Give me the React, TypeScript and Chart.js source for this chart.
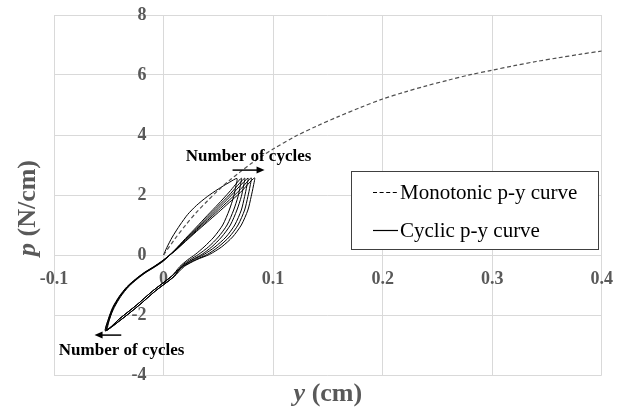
import React, { useEffect, useRef } from 'react';
import { Chart, registerables } from 'chart.js';

Chart.register(...registerables);

// ---- tick values ----
const X_TICKS = [-0.1, 0, 0.1, 0.2, 0.3, 0.4];
const Y_TICKS = [-4, -2, 0, 2, 4, 6, 8];

// ---- monotonic p-y curve (dashed) ----
const MONO_X = [0, 0.01, 0.02, 0.03, 0.04, 0.05, 0.06, 0.07, 0.08, 0.09, 0.1, 0.12, 0.14, 0.16, 0.18, 0.2, 0.22, 0.24, 0.26, 0.28, 0.3, 0.32, 0.34, 0.36, 0.38, 0.4];
const MONO_P = [0, 0.52, 0.99, 1.42, 1.8, 2.16, 2.48, 2.77, 3.05, 3.3, 3.53, 3.95, 4.3, 4.62, 4.92, 5.2, 5.43, 5.64, 5.83, 6.01, 6.16, 6.31, 6.45, 6.57, 6.69, 6.8];

// ---- cyclic p-y curve (solid), one array pair per cycle ----
const C1_X = [0, 0.003, 0.008, 0.015, 0.022, 0.03, 0.04, 0.05, 0.06, 0.067, 0.066, 0.064, 0.06, 0.054, 0.046, 0.037, 0.029, 0.022, 0.015, 0.007, -0.01, -0.025, -0.04, -0.051];
const C1_P = [0, 0.25, 0.6, 1.0, 1.35, 1.65, 1.95, 2.2, 2.42, 2.55, 2.3, 1.95, 1.5, 1.0, 0.6, 0.27, 0.02, -0.16, -0.38, -0.72, -1.2, -1.68, -2.12, -2.48];

const C2_X = [-0.049, -0.045, -0.039, -0.032, -0.024, -0.016, -0.008, 0.0, 0.01, 0.02, 0.03, 0.04, 0.05, 0.06, 0.071, 0.07, 0.068, 0.064, 0.058, 0.05, 0.041, 0.032, 0.024, 0.016, 0.0095, -0.0075, -0.0225, -0.0375, -0.052];
const C2_P = [-2.1, -1.75, -1.38, -1.06, -0.8, -0.58, -0.4, -0.2, 0.16, 0.55, 0.93, 1.32, 1.7, 2.1, 2.56, 2.3, 1.95, 1.5, 1.0, 0.6, 0.27, 0.02, -0.16, -0.38, -0.72, -1.2, -1.68, -2.12, -2.5];

const C3_X = [-0.049, -0.0455, -0.0395, -0.0325, -0.0245, -0.0165, -0.0085, -0.0005, 0.01, 0.02, 0.03, 0.04, 0.05, 0.06, 0.074, 0.073, 0.071, 0.067, 0.061, 0.053, 0.044, 0.035, 0.026, 0.017, 0.007, -0.01, -0.025, -0.04, -0.052];
const C3_P = [-2.1, -1.75, -1.38, -1.06, -0.8, -0.58, -0.4, -0.2, 0.15, 0.52, 0.89, 1.26, 1.63, 2.0, 2.56, 2.3, 1.95, 1.5, 1.0, 0.6, 0.27, 0.02, -0.16, -0.38, -0.72, -1.2, -1.68, -2.12, -2.52];

const C4_X = [-0.0495, -0.046, -0.04, -0.033, -0.025, -0.017, -0.009, -0.001, 0.01, 0.02, 0.03, 0.04, 0.05, 0.06, 0.077, 0.076, 0.074, 0.071, 0.065, 0.057, 0.047, 0.037, 0.027, 0.017, 0.0095, -0.0075, -0.0225, -0.0375, -0.053];
const C4_P = [-2.1, -1.75, -1.38, -1.06, -0.8, -0.58, -0.4, -0.2, 0.14, 0.5, 0.85, 1.2, 1.56, 1.92, 2.56, 2.3, 1.95, 1.5, 1.0, 0.6, 0.27, 0.02, -0.16, -0.38, -0.72, -1.2, -1.68, -2.12, -2.52];

const C5_X = [-0.05, -0.046, -0.04, -0.033, -0.025, -0.017, -0.009, -0.001, 0.01, 0.02, 0.03, 0.04, 0.05, 0.06, 0.07, 0.08, 0.079, 0.077, 0.074, 0.068, 0.06, 0.05, 0.04, 0.029, 0.018, 0.007, -0.01, -0.025, -0.04, -0.053];
const C5_P = [-2.1, -1.75, -1.38, -1.06, -0.8, -0.58, -0.4, -0.2, 0.13, 0.47, 0.81, 1.15, 1.49, 1.83, 2.18, 2.57, 2.3, 1.95, 1.5, 1.0, 0.6, 0.27, 0.02, -0.16, -0.38, -0.72, -1.2, -1.68, -2.12, -2.53];

const C6_X = [-0.05, -0.0465, -0.0405, -0.0335, -0.0255, -0.0175, -0.0095, -0.0015, 0.01, 0.02, 0.03, 0.04, 0.05, 0.06, 0.07, 0.083, 0.082, 0.08, 0.077, 0.071, 0.063, 0.053, 0.042, 0.03, 0.019, 0.0095, -0.0075, -0.0225, -0.0375, -0.053];
const C6_P = [-2.1, -1.75, -1.38, -1.06, -0.8, -0.58, -0.4, -0.2, 0.12, 0.45, 0.78, 1.1, 1.42, 1.75, 2.08, 2.57, 2.3, 1.95, 1.5, 1.0, 0.6, 0.27, 0.02, -0.16, -0.38, -0.72, -1.2, -1.68, -2.12, -2.53];

// ---- texts ----
const LEGEND_LABELS = ['Monotonic p-y curve', 'Cyclic p-y curve'];
const NOTE_TEXT = 'Number of cycles';
const X_TITLE = ['y', ' (cm)'];
const Y_TITLE = ['p', ' (N/cm)'];

// annotation anchors in data units [x, p]
const NOTE_TOP = [0.0776, 3.27];
const NOTE_BOTTOM = [-0.0383, -3.2];
const ARROW_TOP = [0.063, 0.0922, 2.83];
const ARROW_BOTTOM = [-0.0386, -0.063, -2.67];

const SERIF = '"Liberation Serif", "Times New Roman", serif';
const TICK_COLOR = '#595959';
const GRID_COLOR = '#d9d9d9';

function zip(xs: number[], ps: number[]) {
  const n = Math.min(xs.length, ps.length);
  const out: { x: number; y: number }[] = [];
  for (let i = 0; i < n; i++) out.push({ x: xs[i], y: ps[i] });
  return out;
}

function arrow(ctx: CanvasRenderingContext2D, x1: number, x2: number, y: number) {
  const dir = Math.sign(x2 - x1);
  ctx.beginPath();
  ctx.moveTo(x1, y);
  ctx.lineTo(x2 - dir * 6, y);
  ctx.lineWidth = 1.5;
  ctx.strokeStyle = '#000';
  ctx.stroke();
  ctx.beginPath();
  ctx.moveTo(x2, y);
  ctx.lineTo(x2 - dir * 8, y - 3.5);
  ctx.lineTo(x2 - dir * 8, y + 3.5);
  ctx.closePath();
  ctx.fillStyle = '#000';
  ctx.fill();
}

const overlayPlugin = {
  id: 'overlay',
  afterDraw(chart: any) {
    const ctx: CanvasRenderingContext2D = chart.ctx;
    const xs = chart.scales.x;
    const ys = chart.scales.y;
    ctx.save();

    // axis titles
    ctx.fillStyle = TICK_COLOR;
    ctx.textBaseline = 'alphabetic';
    ctx.textAlign = 'left';
    const fItal = `italic bold 26px ${SERIF}`;
    const fBold = `bold 26px ${SERIF}`;
    ctx.font = fItal;
    const wy = ctx.measureText(X_TITLE[0]).width;
    ctx.font = fBold;
    const wcm = ctx.measureText(X_TITLE[1]).width;
    const cx = (xs.left + xs.right) / 2;
    let sx = cx - (wy + wcm) / 2;
    ctx.font = fItal;
    ctx.fillText(X_TITLE[0], sx, 401);
    ctx.font = fBold;
    ctx.fillText(X_TITLE[1], sx + wy, 401);

    ctx.save();
    ctx.translate(35, 208);
    ctx.rotate(-Math.PI / 2);
    ctx.font = fItal;
    const wp = ctx.measureText(Y_TITLE[0]).width;
    ctx.font = fBold;
    const wn = ctx.measureText(Y_TITLE[1]).width;
    sx = -(wp + wn) / 2;
    ctx.font = fItal;
    ctx.fillText(Y_TITLE[0], sx, 0);
    ctx.font = fBold;
    ctx.fillText(Y_TITLE[1], sx + wp, 0);
    ctx.restore();

    // annotations
    ctx.fillStyle = '#000';
    ctx.font = `bold 17px ${SERIF}`;
    ctx.textAlign = 'center';
    ctx.textBaseline = 'middle';
    ctx.fillText(NOTE_TEXT, xs.getPixelForValue(NOTE_TOP[0]), ys.getPixelForValue(NOTE_TOP[1]));
    ctx.fillText(NOTE_TEXT, xs.getPixelForValue(NOTE_BOTTOM[0]), ys.getPixelForValue(NOTE_BOTTOM[1]));
    arrow(ctx, xs.getPixelForValue(ARROW_TOP[0]), xs.getPixelForValue(ARROW_TOP[1]), ys.getPixelForValue(ARROW_TOP[2]));
    arrow(ctx, xs.getPixelForValue(ARROW_BOTTOM[0]), xs.getPixelForValue(ARROW_BOTTOM[1]), ys.getPixelForValue(ARROW_BOTTOM[2]));

    // legend
    const bx = 351, by = 171, bw = 247, bh = 78;
    ctx.fillStyle = '#fff';
    ctx.fillRect(bx, by, bw, bh);
    ctx.strokeStyle = '#404040';
    ctx.lineWidth = 1;
    ctx.strokeRect(bx + 0.5, by + 0.5, bw, bh);
    const rows = [192, 230];
    chart.data.datasets.forEach((ds: any, i: number) => {
      const yy = rows[i];
      ctx.beginPath();
      ctx.setLineDash(i === 0 ? [4, 2.6] : []);
      ctx.strokeStyle = '#000';
      ctx.lineWidth = 1.2;
      ctx.moveTo(373, yy + 0.5);
      ctx.lineTo(398, yy + 0.5);
      ctx.stroke();
      ctx.setLineDash([]);
      ctx.fillStyle = '#000';
      ctx.font = `21px ${SERIF}`;
      ctx.textAlign = 'left';
      ctx.textBaseline = 'middle';
      ctx.fillText(LEGEND_LABELS[i], 400, yy + 1);
    });

    ctx.restore();
  },
};

export default function App() {
  const ref = useRef<HTMLCanvasElement | null>(null);
  useEffect(() => {
    document.body.style.margin = '0';
    const cyc = [
      ...zip(C1_X, C1_P),
      ...zip(C2_X, C2_P),
      ...zip(C3_X, C3_P),
      ...zip(C4_X, C4_P),
      ...zip(C5_X, C5_P),
      ...zip(C6_X, C6_P),
    ];
    const tickFont = { family: SERIF, size: 18, weight: 'bold' as const };
    const chart = new Chart(ref.current as HTMLCanvasElement, {
      type: 'scatter',
      data: {
        datasets: [
          {
            label: LEGEND_LABELS[0],
            data: zip(MONO_X, MONO_P),
            showLine: true,
            borderColor: '#505050',
            borderWidth: 1.2,
            borderDash: [4, 2.6],
            pointRadius: 0,
            fill: false,
            tension: 0.3,
          },
          {
            label: LEGEND_LABELS[1],
            data: cyc,
            showLine: true,
            borderColor: '#000000',
            borderWidth: 1,
            pointRadius: 0,
            fill: false,
            tension: 0.25,
          },
        ],
      },
      options: {
        animation: false,
        responsive: false,
        maintainAspectRatio: false,
        layout: { padding: { left: 54, right: 25, top: 15, bottom: 33 } },
        plugins: { legend: { display: false }, tooltip: { enabled: false }, title: { display: false } },
        scales: {
          x: {
            type: 'linear',
            min: -0.1,
            max: 0.4,
            position: { y: 0 } as any,
            afterBuildTicks: (s: any) => {
              s.ticks = X_TICKS.map((v) => ({ value: v }));
            },
            grid: { color: GRID_COLOR, drawTicks: false, lineWidth: 1 },
            border: { color: GRID_COLOR },
            ticks: {
              font: tickFont,
              color: TICK_COLOR,
              padding: 14,
              maxRotation: 0,
              callback: (v: any) => String(v),
            },
          },
          y: {
            type: 'linear',
            min: -4,
            max: 8,
            // labels sit just left of the x = 0 line; the x = 0 line itself is an x grid line
            position: { x: -0.0155 } as any,
            afterBuildTicks: (s: any) => {
              s.ticks = Y_TICKS.map((v) => ({ value: v }));
            },
            grid: { color: GRID_COLOR, drawTicks: false, lineWidth: 1 },
            border: { display: false },
            ticks: {
              font: tickFont,
              color: TICK_COLOR,
              callback: (v: any) => String(v),
            },
          },
        },
      },
      plugins: [overlayPlugin],
    });
    return () => chart.destroy();
  }, []);
  return (
    <div style={{ width: 627, height: 408 }}>
      <canvas ref={ref} width={627} height={408} style={{ display: 'block', width: 627, height: 408 }} />
    </div>
  );
}
